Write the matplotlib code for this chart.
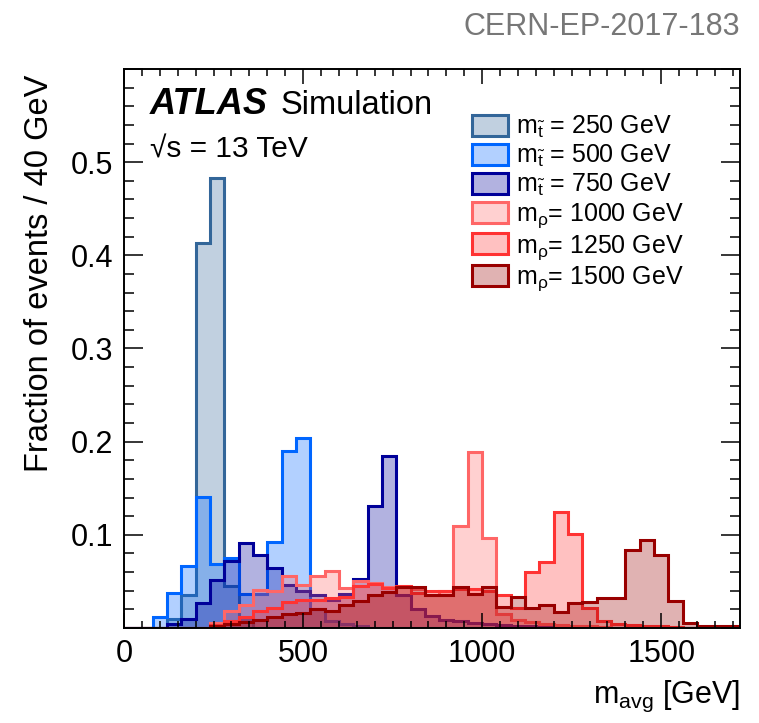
#!/usr/bin/env python3
"""ATLAS simulation: m_avg distributions for stop / rho signal masses."""
import numpy as np
import matplotlib
matplotlib.use("Agg")
import matplotlib.pyplot as plt
from matplotlib.patches import Patch
from matplotlib.ticker import MultipleLocator, FuncFormatter
from matplotlib.colors import to_rgba

plt.rcParams["font.family"] = ["Liberation Sans", "DejaVu Sans"]
plt.rcParams["mathtext.fontset"] = "custom"
plt.rcParams["mathtext.rm"] = "Liberation Sans"
plt.rcParams["mathtext.it"] = "Liberation Sans:italic"
plt.rcParams["mathtext.bf"] = "Liberation Sans:bold"

# 40 GeV bins, 0 - 1720 GeV
edges = np.arange(0, 1721, 40)

m250 = [0, 0, 0, 0.010, 0.035, 0.413, 0.483, 0.045, 0.010, 0,
        0, 0, 0, 0, 0, 0, 0, 0, 0, 0,
        0, 0, 0, 0, 0, 0, 0, 0, 0, 0,
        0, 0, 0, 0, 0, 0, 0, 0, 0, 0,
        0, 0, 0]
m500 = [0, 0, 0.012, 0.038, 0.067, 0.141, 0.069, 0.075, 0.037, 0.037,
        0.092, 0.190, 0.2035, 0.020, 0.008, 0.004, 0.002, 0, 0, 0,
        0, 0, 0, 0, 0, 0, 0, 0, 0, 0,
        0, 0, 0, 0, 0, 0, 0, 0, 0, 0,
        0, 0, 0]
m750 = [0, 0, 0, 0.004, 0.010, 0.027, 0.052, 0.072, 0.091, 0.078,
        0.064, 0.046, 0.040, 0.035, 0.030, 0.037, 0.053, 0.131, 0.185, 0.035,
        0.020, 0.013, 0.009, 0.007, 0.005, 0.004, 0.003, 0.002, 0.002, 0.001,
        0, 0, 0, 0, 0, 0, 0, 0, 0, 0,
        0, 0, 0]
m1000 = [0, 0, 0, 0, 0, 0, 0.005, 0.018, 0.025, 0.041,
         0.040, 0.056, 0.046, 0.056, 0.061, 0.043, 0.050, 0.048, 0.044, 0.044,
         0.042, 0.035, 0.040, 0.110, 0.189, 0.097, 0.015, 0.009, 0.006, 0.004,
         0.003, 0.002, 0.002, 0.001, 0, 0, 0, 0, 0, 0,
         0, 0, 0]
m1250 = [0, 0, 0, 0, 0, 0, 0.003, 0.008, 0.012, 0.018,
         0.022, 0.028, 0.030, 0.030, 0.032, 0.033, 0.045, 0.047, 0.043, 0.045,
         0.038, 0.040, 0.040, 0.042, 0.042, 0.040, 0.035, 0.022, 0.060, 0.0705,
         0.125, 0.101, 0.021, 0.007, 0.004, 0.003, 0.002, 0.002, 0.001, 0,
         0, 0, 0]
m1500 = [0, 0, 0, 0, 0, 0, 0.002, 0.004, 0.006, 0.009,
         0.012, 0.015, 0.016, 0.020, 0.018, 0.025, 0.029, 0.035, 0.039, 0.044,
         0.044, 0.035, 0.035, 0.044, 0.0365, 0.044, 0.023, 0.033, 0.021, 0.025,
         0.0175, 0.0265, 0.028, 0.032, 0.032, 0.084, 0.094, 0.078, 0.029, 0.005,
         0.002, 0.002, 0.002]

series = [m250, m500, m750, m1000, m1250, m1500]
colors = ["#336699", "#0066ff", "#000099", "#ff6666", "#ff3333", "#990000"]
labels = [r"m$_{\tilde{\mathrm{t}}}$ = 250 GeV",
          r"m$_{\tilde{\mathrm{t}}}$ = 500 GeV",
          r"m$_{\tilde{\mathrm{t}}}$ = 750 GeV",
          r"m$_{\mathrm{ρ}}$= 1000 GeV",
          r"m$_{\mathrm{ρ}}$= 1250 GeV",
          r"m$_{\mathrm{ρ}}$= 1500 GeV"]

fig = plt.figure(figsize=(7.59, 7.23), dpi=100)
ax = fig.add_axes([124 / 759, 1 - 628 / 723, 616 / 759, 559 / 723])

handles = []
for vals, col in zip(series, colors):
    ax.stairs(vals, edges, baseline=0, fill=True, color=col, alpha=0.3, lw=0)
    ax.stairs(vals, edges, baseline=0, color=col, lw=2.2)
    handles.append(Patch(facecolor=to_rgba(col, 0.3), edgecolor=col, lw=2.2))

ax.set_xlim(0, 1720)
ax.set_ylim(0, 0.6)

# --- ROOT-style ticks ---
ax.xaxis.set_major_locator(MultipleLocator(500))
ax.xaxis.set_minor_locator(MultipleLocator(50))
ax.yaxis.set_major_locator(MultipleLocator(0.1))
ax.yaxis.set_minor_locator(MultipleLocator(0.02))
ax.yaxis.set_major_formatter(FuncFormatter(
    lambda v, p: "" if v < 0.05 or v > 0.55 else f"{v:.1f}"))
ax.tick_params(which="both", direction="in", top=True, right=True, width=1.1)
ax.tick_params(axis="x", which="major", length=11, labelsize=22, pad=8)
ax.tick_params(axis="x", which="minor", length=5)
ax.tick_params(axis="y", which="major", length=14, labelsize=22, pad=8)
ax.tick_params(axis="y", which="minor", length=7)
for sp in ax.spines.values():
    sp.set_linewidth(1.4)

ax.legend(handles, labels, loc="upper left", bbox_to_anchor=(0.565, 0.92),
          frameon=False, fontsize=18, handlelength=1.45, handleheight=0.92,
          labelspacing=0.12, handletextpad=0.3, borderaxespad=0, borderpad=0)

# --- labels ---
fig.text(740 / 759, 1 - 703 / 723, r"m$_{\mathrm{avg}}$ [GeV]",
         ha="right", va="baseline", fontsize=22)
fig.text(40 / 759, 1 - 75 / 723, "Fraction of events / 40 GeV",
         rotation=90, ha="center", va="top", fontsize=23.5)
fig.text(740 / 759, 1 - 27 / 723, "CERN-EP-2017-183",
         ha="right", va="center", fontsize=22, color="#777777")
fig.text(150 / 759, 1 - 105 / 723, "ATLAS", ha="left", va="center",
         fontsize=26, fontweight="bold", fontstyle="italic")
fig.text(281 / 759, 1 - 105 / 723, "Simulation", ha="left", va="center",
         fontsize=23.5)
fig.text(150 / 759, 1 - 150 / 723, "\u221as = 13 TeV", ha="left", va="center",
         fontsize=21.5)

fig.savefig("out.png", dpi=100)
